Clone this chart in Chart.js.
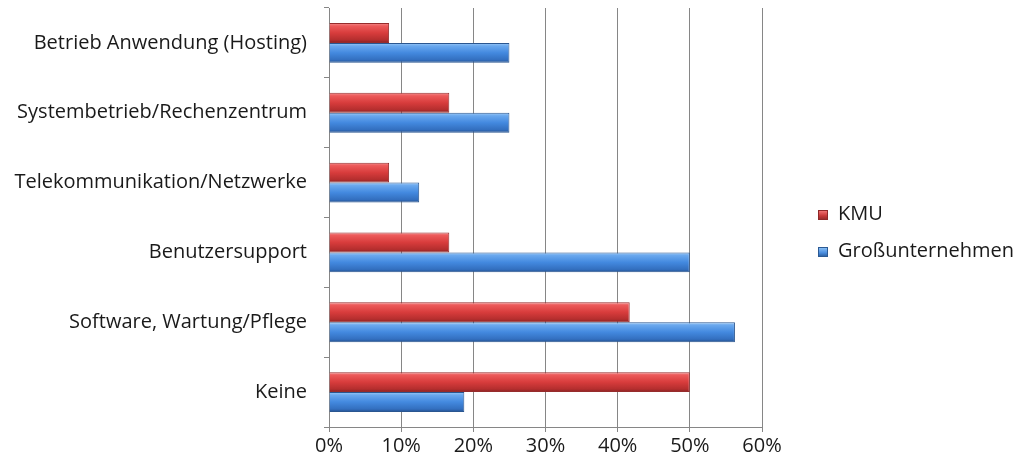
<!DOCTYPE html>
<html>
<head>
<meta charset="utf-8">
<script src="https://cdn.jsdelivr.net/npm/chart.js@4.4.1/dist/chart.umd.min.js"></script>
<style>
  html, body { margin: 0; padding: 0; background: #fff; }
  #wrap { width: 1015px; height: 465px; position: relative; }
  .legend { position: absolute; left: 818px; font-family: 'Open Sans', sans-serif; font-size: 20px; color: #1a1a1a; line-height: 20px; }
  .legend i { display: inline-block; width: 10px; height: 10px; margin-right: 10px; vertical-align: 0px; box-sizing: border-box; }
</style>
</head>
<body>
<div id="wrap">
  <canvas id="chart"></canvas>
  <div class="legend" style="top:203px"><i style="background:linear-gradient(#f07070,#c83838 60%,#9a2c2c);border:1px solid #8e2828"></i>KMU</div>
  <div class="legend" style="top:240px"><i style="background:linear-gradient(#86bdf4,#4a8ee0 60%,#2f65a8);border:1px solid #2c5a94"></i>Großunternehmen</div>
</div>
<script>
// Chart data
const categories = ['Betrieb Anwendung (Hosting)', 'Systembetrieb/Rechenzentrum', 'Telekommunikation/Netzwerke',
    'Benutzersupport', 'Software, Wartung/Pflege', 'Keine'];
const kmu = [8.33, 16.67, 8.33, 16.67, 41.67, 50];
const grossunternehmen = [25, 25, 12.5, 50, 56.25, 18.75];
const xTicks = [0, 10, 20, 30, 40, 50, 60];

const catPct = 0.571;
const FONT = "'Open Sans', sans-serif";

// vertical gradient per bar, to fake the bevelled office look
function barFill(stops) {
    return function(ctx) {
        const chart = ctx.chart;
        const ys = chart.scales.y;
        if (!ys || ctx.dataIndex === undefined) return stops[2];
        const center = ys.getPixelForValue(ctx.dataIndex);
        const cat = ys.height / categories.length * catPct;
        const top = center - cat / 2 + ctx.datasetIndex * cat / 2;
        if (!isFinite(top) || !isFinite(cat) || cat <= 0) return stops[2];
        const g = chart.ctx.createLinearGradient(0, top, 0, top + cat / 2);
        g.addColorStop(0, stops[0]);
        g.addColorStop(0.15, stops[1]);
        g.addColorStop(0.5, stops[2]);
        g.addColorStop(0.85, stops[3]);
        g.addColorStop(1, stops[4]);
        return g;
    };
}

const redStops = ['#f49090', '#ec5a5a', '#d83c3c', '#b42e2e', '#862222'];
const blueStops = ['#a0ccf7', '#6aa8ee', '#4389df', '#336fbf', '#24508c'];

new Chart(document.getElementById('chart'), {
    type: 'bar',
    data: {
        labels: categories,
        datasets: [{
            label: 'KMU',
            data: kmu,
            backgroundColor: barFill(redStops),
            borderColor: '#962c2c',
            borderWidth: 1,
            borderSkipped: 'left'
        }, {
            label: 'Großunternehmen',
            data: grossunternehmen,
            backgroundColor: barFill(blueStops),
            borderColor: '#2a5690',
            borderWidth: 1,
            borderSkipped: 'left'
        }]
    },
    options: {
        indexAxis: 'y',
        responsive: true,
        maintainAspectRatio: false,
        animation: false,
        datasets: { bar: { categoryPercentage: catPct, barPercentage: 1 } },
        layout: { padding: { top: 8, left: 0, right: 253, bottom: 0 } },
        scales: {
            x: {
                min: 0, max: 60,
                afterBuildTicks: s => { s.ticks = xTicks.map(v => ({ value: v })); },
                afterFit: s => { s.height = 38; s.paddingLeft = 0; s.paddingRight = 0; },
                border: { color: '#868686' },
                grid: { color: '#868686', tickLength: 5 },
                ticks: {
                    padding: 2,
                    color: '#1a1a1a',
                    font: { family: FONT, size: 20 },
                    callback: v => v + '%'
                }
            },
            y: {
                afterFit: s => { s.width = 329; s.paddingTop = 0; s.paddingBottom = 0; },
                border: { color: '#868686' },
                grid: { drawOnChartArea: false, color: '#868686', tickLength: 5, offset: true },
                ticks: {
                    padding: 17,
                    color: '#1a1a1a',
                    font: { family: FONT, size: 20 }
                }
            }
        },
        plugins: {
            tooltip: { enabled: false },
            legend: { display: false }
        }
    }
});
</script>
</body>
</html>
